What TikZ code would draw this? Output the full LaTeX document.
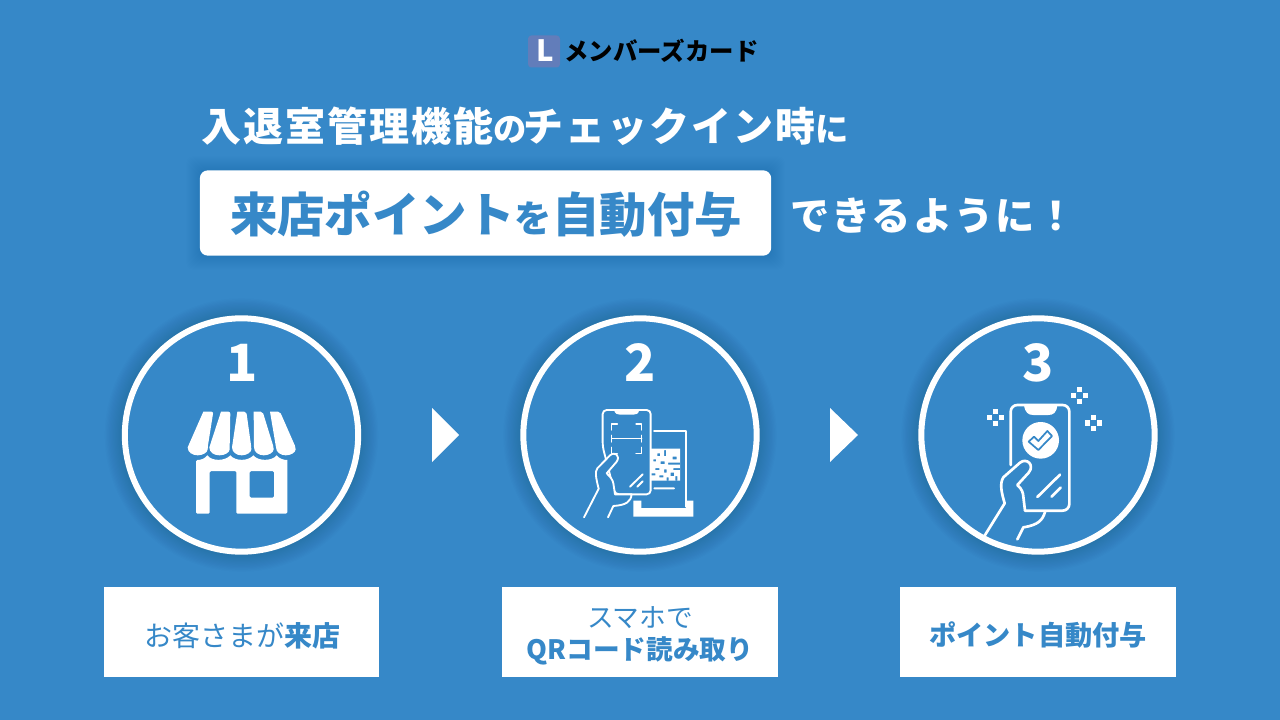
\documentclass[tikz,border=0pt]{standalone}
\usepackage{fontspec}
\newfontfamily\jp{Noto Sans CJK JP}
\newfontfamily\jpb{Noto Sans CJK JP Bold}
\newfontfamily\jpk{Noto Sans CJK JP Black}
\newfontfamily\jpt{Noto Sans CJK JP Black}[LetterSpace=5]
\definecolor{bg}{HTML}{3688C8}
\tikzset{
 every node/.style={inner sep=0,outer sep=0},
 tt/.style={font=\jpt\fontsize{30}{30}\selectfont,text=white,anchor=west},
 ring/.style={circle,draw=white,line width=4.5pt,minimum size=175pt,fill=bg},
 box/.style={fill=white,minimum width=206.5pt,minimum height=67.5pt},
 lab/.style={font=\jpk\fontsize{20.4}{24}\selectfont,text=bg,align=center},
 ic/.style={draw=white,line width=1.4pt,line cap=round,line join=round},
 num/.style={font=\jpk\fontsize{38.5}{38}\selectfont,text=white},
 tri/.style={fill=white}
}
\begin{document}
\begin{tikzpicture}[x=0.75pt,y=-0.75pt]
\useasboundingbox (0,0) rectangle (1280,720);
\fill[bg] (0,0) rectangle (1280,720);
% soft shadows
\foreach \d in {1,...,14}{
 \foreach \cx in {241.5,640,1038}{
  \fill[black,opacity=0.006] (\cx,435) circle ({90+\d*0.9pt});
 }
 \fill[black,opacity=0.005,rounded corners=6pt] (200-\d,170-\d) rectangle (771+\d,256+\d);
}
\node[rounded corners=2.5pt,fill={rgb,255:red,98;green,125;blue,186},minimum size=24pt] (logo) at (544,51.5) {};
\node[font=\jpk\fontsize{22}{22}\selectfont,text=white] (logol) at (545,51) {L};
\node[font=\jpk\fontsize{18.3}{18}\selectfont,text=black,anchor=west] (logot) at (564.5,51) {メンバーズカード};
\node[tt] (t1) at (201,126) {入退室管理機能\fontsize{25}{25}\selectfont の\kern-2pt\fontsize{30}{30}\selectfont チェックイン時\fontsize{25}{25}\selectfont に};
\node[fill=white,rounded corners=6pt,minimum width=428.5pt,minimum height=64pt] (hl) at (485.5,213) {};
\node[font=\jpk\fontsize{35.6}{36}\selectfont,text=bg] (hlt) at (486,214) {来店ポイント\fontsize{28}{28}\selectfont を\fontsize{35.6}{36}\selectfont 自動付与};
\node[tt,font=\jpt\fontsize{29.5}{30}\selectfont,anchor=west] (t2) at (790,215.5) {できるように！};
\node[ring] (c1) at (241.5,435) {};
\node[ring] (c2) at (640,435) {};
\node[ring] (c3) at (1038,435) {};
\node[num] (n1) at (242,363) {1};
\node[num] (n2) at (640,363) {2};
\node[num] (n3) at (1038,363) {3};
\fill[tri] (432,408) -- (459,435) -- (432,462) -- cycle;
\fill[tri] (830,408) -- (858,435) -- (830,462) -- cycle;
% shop
\begin{scope}[shift={(120,310)},x=0.25pt,y=-0.25pt]
\foreach \tl/\tr/\bl/\br in {250/280/203/263, 303/331/268/329, 352/379/336/394, 401/428/402/461, 450/480/468/527}{
 \fill[white,rounded corners=1.5pt] (\tl,305) -- (\tr,305) -- (\br,412) [sharp corners] .. controls (\br,427) and (\br-14,436) .. ({(\bl+\br)/2},436) .. controls (\bl+14,436) and (\bl,427) .. (\bl,412) -- cycle;
}
\fill[white,even odd rule,rounded corners=1pt] (228,450) [sharp corners] .. controls (245,450) and (255,445) .. (262,436) .. controls (275,454) and (315,454) .. (331,436) .. controls (345,454) and (385,454) .. (400,436) .. controls (415,454) and (455,454) .. (470,436) .. controls (478,446) and (490,450) .. (502,450) [rounded corners=1pt] -- (502,611) -- (349,611) -- (349,483) -- (269,483) -- (269,611) -- (228,611) -- cycle (389,483) -- (462,483) -- (462,563) -- (389,563) -- cycle;
\end{scope}
% phone 2
\begin{scope}[shift={(560,390)},x=0.25pt,y=-0.25pt]
\draw[ic] (282,123) -- (378,123) -- (378,350);
\fill[white] (220,332) -- (244,332) -- (244,354) -- (378,354) -- (378,332) -- (400,332) -- (400,380) -- (220,380) -- cycle;
\draw[ic,fill=bg,rounded corners=3pt] (128,60) -- (272,60) -- (272,313) -- (165,313) -- (128,170) -- cycle;
\fill[white] (162,60) -- (238,60) .. controls (235,72) and (228,74) .. (220,74) -- (180,74) .. controls (172,74) and (165,72) .. (162,60) -- cycle;
\draw[ic,line width=1pt] (172,102) -- (155,102) -- (155,120) (228,102) -- (245,102) -- (245,120) (155,172) -- (155,190) -- (172,190) (245,172) -- (245,190) -- (228,190) (155,146) -- (245,146) (155,136) -- (155,156) (245,136) -- (245,156);
\draw[ic] (248,253) -- (210,290) (248,274) -- (232,290) (283,295) -- (342,295);
\fill[white,even odd rule] (272,176) rectangle (360,272)
 (292,190) rectangle (300,198) (312,180) rectangle (318,198) (338,200) rectangle (350,208) (280,208) rectangle (288,214) (302,214) rectangle (314,222) (324,218) rectangle (360,224) (340,234) rectangle (360,240) (286,234) rectangle (298,240) (312,238) rectangle (320,248) (272,250) rectangle (286,256) (298,256) rectangle (310,262) (332,248) rectangle (342,258) (320,262) rectangle (326,272) (346,258) rectangle (352,272);
\draw[ic,fill=bg] (72,382) -- (116,296) .. controls (108,265) and (104,245) .. (112,235) -- (150,196) .. controls (165,183) and (182,198) .. (170,215) -- (140,250) .. controls (150,260) and (158,268) .. (160,280) -- (165,313) -- (215,313) .. controls (212,335) and (200,345) .. (160,348) -- (144,382);
\end{scope}
% phone 3
\begin{scope}[shift={(970,380)},x=0.25pt,y=-0.25pt]
\draw[ic,line width=2pt,rounded corners=5pt] (165,392) -- (298,392) -- (298,75) -- (122,75) -- (122,255);
\fill[white] (162,75) -- (262,75) .. controls (260,98) and (250,105) .. (235,105) -- (190,105) .. controls (175,105) and (165,98) .. (162,75) -- cycle;
\fill[white] (212,181) circle (13.75pt);
\draw[bg,line width=1.3pt,line join=round] (176,185) -- (192,170) -- (205,183) -- (232,153) -- (246,168) -- (205,210) -- cycle;
\draw[ic,line width=2pt] (270,284) -- (202,351) (272,323) -- (245,350);
\draw[ic,line width=2pt] (42,470) -- (104,370) .. controls (95,340) and (88,310) .. (100,292) -- (150,248) .. controls (170,232) and (195,255) .. (176,278) -- (142,315) .. controls (155,325) and (160,340) .. (160,350) -- (165,392) (225,396) .. controls (218,420) and (205,435) .. (160,442) -- (142,478);
\foreach \cx/\cy in {329/47,77/113,370/129}{
 \fill[white] (\cx-8,\cy-25) rectangle (\cx+8,\cy-10);
 \fill[white] (\cx-8,\cy+10) rectangle (\cx+8,\cy+25);
 \fill[white] (\cx-25,\cy-8) rectangle (\cx-10,\cy+8);
 \fill[white] (\cx+10,\cy-8) rectangle (\cx+25,\cy+8);
}
\end{scope}
\node[box] (b1) at (241.5,632) {};
\node[box] (b2) at (640,632) {};
\node[box] (b3) at (1038,632) {};
\node[lab,font=\jpk\fontsize{21}{24}\selectfont] (l1) at (242,636) {{\jp お客さまが}来店};
\node[lab,font=\jpk\fontsize{20}{24}\selectfont] (l2) at (640,635.5) {{\jp スマホで}\\QRコード読み取り};
\node[lab] (l3) at (1038,635) {ポイント自動付与};
\end{tikzpicture}
\end{document}
